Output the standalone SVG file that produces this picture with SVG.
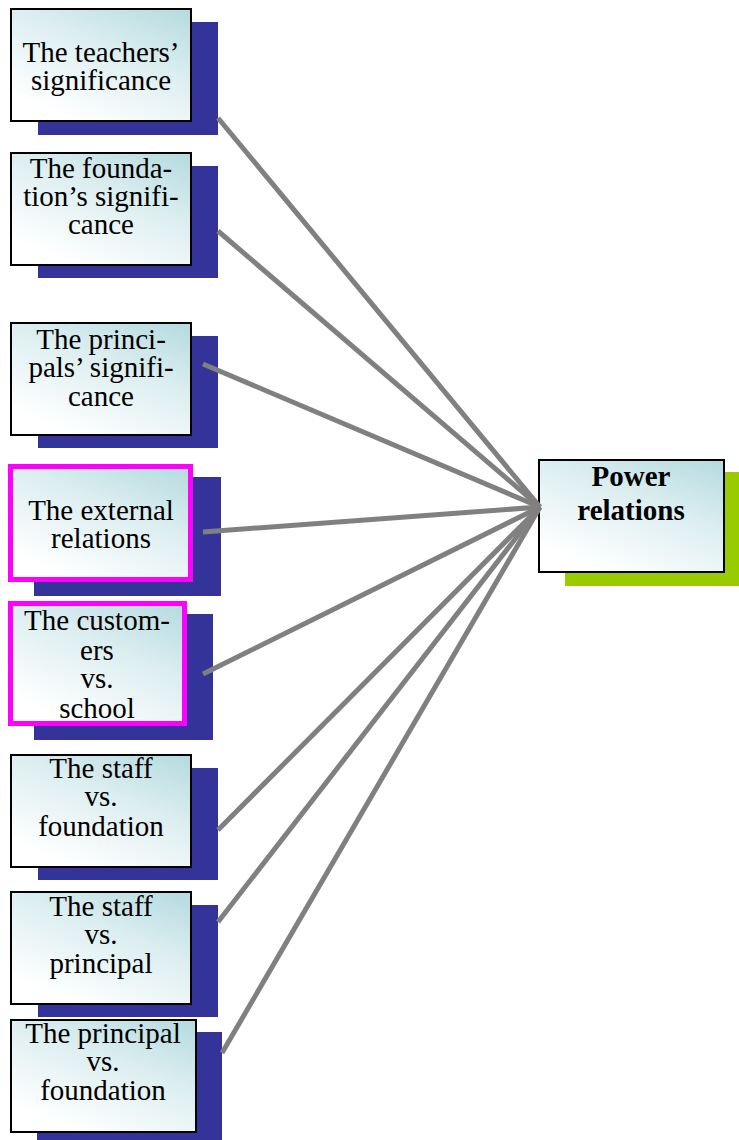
<svg xmlns="http://www.w3.org/2000/svg" width="739" height="1140" viewBox="0 0 739 1140">
  <defs>
    <linearGradient id="boxFill" x1="1" y1="0" x2="0.35" y2="1">
      <stop offset="0" stop-color="#b3dadf"/>
      <stop offset="0.45" stop-color="#dceef0"/>
      <stop offset="1" stop-color="#ffffff"/>
    </linearGradient>
    <style>
      .shadow { fill: #333399; }
      .shadow-green { fill: #99cc00; }
      .box { fill: url(#boxFill); stroke: #000000; stroke-width: 2; }
      .box-hl { fill: url(#boxFill); stroke: #ff00ff; stroke-width: 5; }
      .label { font-family: "Liberation Serif", "DejaVu Serif", serif; font-size: 29px; fill: #000000; text-anchor: middle; }
      .label-bold { font-weight: bold; }
      .link { stroke: #808080; stroke-width: 5; fill: none; }
    </style>
  </defs>

  <rect width="739" height="1140" fill="#ffffff"/>

  <!-- source nodes -->
  <g id="teachers">
    <rect class="shadow" x="38" y="22" width="180" height="113"/>
    <rect class="box" x="11" y="9" width="180" height="112"/>
    <text class="label" x="101" y="62">The teachers’</text>
    <text class="label" x="101" y="90">significance</text>
  </g>

  <g id="foundation">
    <rect class="shadow" x="38" y="166" width="180" height="112"/>
    <rect class="box" x="11" y="153" width="180" height="112"/>
    <text class="label" x="101" y="178">The founda-</text>
    <text class="label" x="101" y="206">tion’s signifi-</text>
    <text class="label" x="101" y="234">cance</text>
  </g>

  <g id="principals">
    <rect class="shadow" x="38" y="336" width="180" height="112"/>
    <rect class="box" x="11" y="323" width="180" height="112"/>
    <text class="label" x="101" y="349">The princi-</text>
    <text class="label" x="101" y="377">pals’ signifi-</text>
    <text class="label" x="101" y="406">cance</text>
  </g>

  <g id="external">
    <rect class="shadow" x="34" y="477" width="187" height="119"/>
    <rect class="box-hl" x="10.5" y="466.5" width="180" height="113"/>
    <text class="label" x="101" y="520">The external</text>
    <text class="label" x="101" y="548">relations</text>
  </g>

  <g id="customers">
    <rect class="shadow" x="34" y="614" width="179" height="126"/>
    <rect class="box-hl" x="10.5" y="603.5" width="174" height="120"/>
    <text class="label" x="97" y="630">The custom-</text>
    <text class="label" x="97" y="660">ers</text>
    <text class="label" x="97" y="688">vs.</text>
    <text class="label" x="97" y="718">school</text>
  </g>

  <g id="staff-foundation">
    <rect class="shadow" x="38" y="768" width="180" height="112"/>
    <rect class="box" x="11" y="755" width="180" height="112"/>
    <text class="label" x="101" y="778">The staff</text>
    <text class="label" x="101" y="806">vs.</text>
    <text class="label" x="101" y="836">foundation</text>
  </g>

  <g id="staff-principal">
    <rect class="shadow" x="38" y="905" width="180" height="112"/>
    <rect class="box" x="11" y="892" width="180" height="112"/>
    <text class="label" x="101" y="916">The staff</text>
    <text class="label" x="101" y="944">vs.</text>
    <text class="label" x="101" y="973">principal</text>
  </g>

  <g id="principal-foundation">
    <rect class="shadow" x="37" y="1032" width="185" height="108"/>
    <rect class="box" x="11" y="1020" width="185" height="112"/>
    <text class="label" x="103" y="1043">The principal</text>
    <text class="label" x="103" y="1071">vs.</text>
    <text class="label" x="103" y="1100">foundation</text>
  </g>

  <!-- target node -->
  <g id="power-relations">
    <rect class="shadow-green" x="565" y="472" width="174" height="114"/>
    <rect class="box" x="539" y="460" width="185" height="112"/>
    <text class="label label-bold" x="631" y="486">Power</text>
    <text class="label label-bold" x="631" y="520">relations</text>
  </g>

  <!-- connectors into the target node -->
  <g id="connectors">
    <line class="link" x1="218" y1="118" x2="540" y2="507"/>
    <line class="link" x1="218" y1="231" x2="540" y2="507"/>
    <line class="link" x1="203" y1="364" x2="540" y2="507"/>
    <line class="link" x1="203" y1="532" x2="540" y2="507"/>
    <line class="link" x1="203" y1="674" x2="540" y2="507"/>
    <line class="link" x1="218" y1="830" x2="540" y2="507"/>
    <line class="link" x1="218" y1="922" x2="540" y2="507"/>
    <line class="link" x1="222" y1="1053" x2="540" y2="507"/>
  </g>
</svg>
